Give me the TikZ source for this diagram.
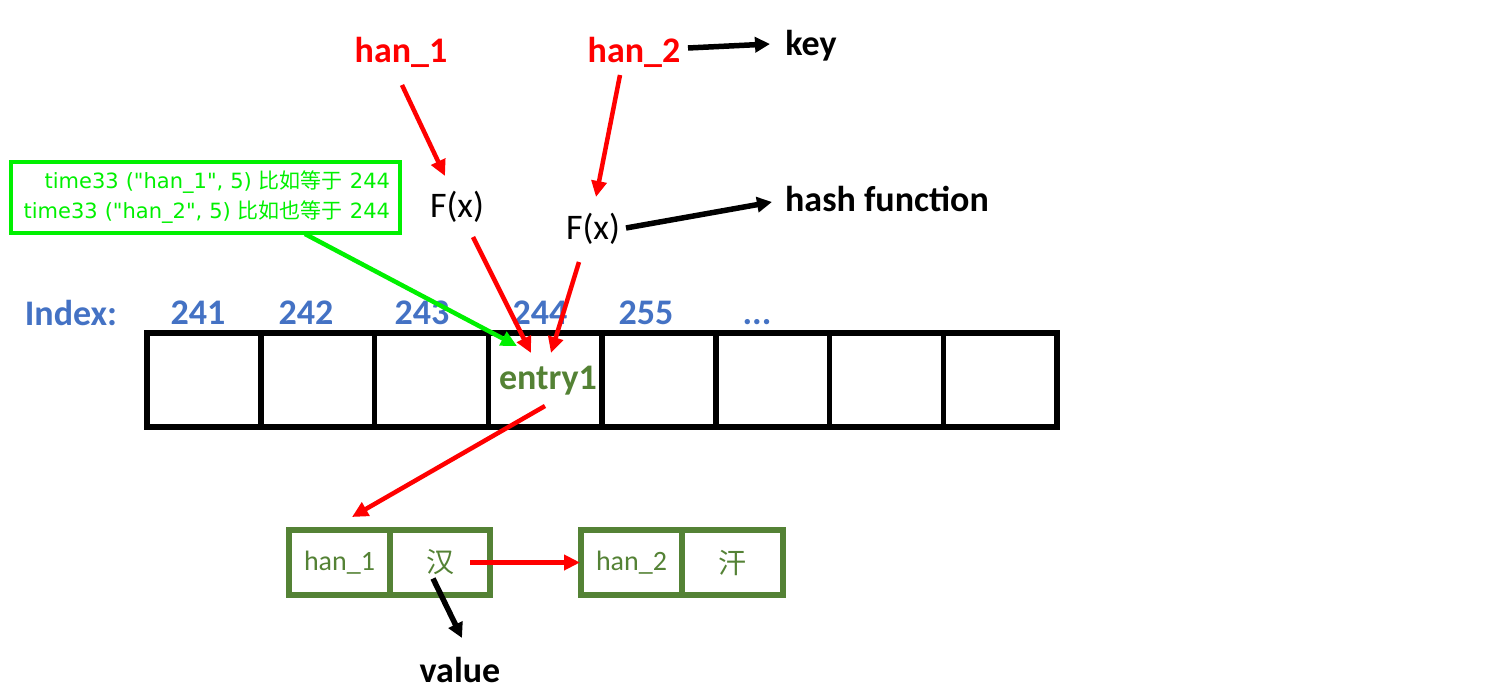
\documentclass[tikz,border=0pt]{standalone}
\usepackage{fontspec}
\setmainfont{Carlito}
\newfontfamily\cjk{Noto Sans CJK SC}
\newfontfamily\dv{DejaVu Sans}
\usetikzlibrary{arrows.meta,calc}
\definecolor{idxblue}{HTML}{4472C4}
\definecolor{dgreen}{HTML}{548235}
\definecolor{bgreen}{HTML}{00F000}
\begin{document}
\begin{tikzpicture}[x=1pt,y=-1pt,
  big/.style={font=\fontsize{36}{43}\selectfont\bfseries, inner sep=0pt},
  fxlbl/.style={font=\fontsize{36}{43}\selectfont, inner sep=0pt},
  cell/.style={draw, line width=5.5pt, minimum width=113.75pt, minimum height=94pt, inner sep=0pt, outer sep=0pt},
  kv/.style={draw=dgreen, line width=5.5pt, minimum height=65pt, inner sep=0pt, outer sep=0pt, text=dgreen, font=\fontsize{28}{34}\selectfont},
  gbox/.style={draw=bgreen, line width=4.5pt, text=bgreen, inner xsep=10pt, inner ysep=0pt, text width=369pt, minimum height=71pt, align=right, font=\dv\fontsize{21}{30}\selectfont},
  ra/.style={draw=red, line width=4.5pt, -{Triangle[length=16pt,width=15pt]}},
  ga/.style={draw=bgreen, line width=4.5pt, -{Triangle[length=16pt,width=15pt]}},
  ba/.style={draw=black, line width=5.5pt, -{Triangle[length=15pt,width=15pt]}}
]
\useasboundingbox (0,0) rectangle (1508,696);
\fill[white] (0,0) rectangle (1508,696);

% top labels
\node[big, text=red] (h1) at (401,52) {han\_1};
\node[big, text=red] (h2) at (634,52) {han\_2};
\node[big] (key) at (811,46) {key};
\node[fxlbl] (fx1) at (457,207) {F(x)};
\node[fxlbl] (fx2) at (593,229) {F(x)};
\node[big] (hash) at (887,199) {hash function};

% green note
\node[gbox] (note) at (205.5,197.5) {time33 ("han\_1", 5) {\cjk 比如等于} 244\\time33 ("han\_2", 5) {\cjk 比如也等于} 244};

% index labels
\node[big, text=idxblue] (idx) at (71,313) {Index:};
\node[big, text=idxblue] (i1) at (198,313) {241};
\node[big, text=idxblue] (i2) at (306,313) {242};
\node[big, text=idxblue] (i3) at (422,313) {243};
\node[big, text=idxblue] (i4) at (540,313) {244};
\node[big, text=idxblue] (i5) at (646,313) {255};
\node[big, text=idxblue, anchor=base] (i6) at (757,324) {...};

% array cells
\foreach \i in {1,...,8}
  \node[cell] (c\i) at ({147+113.75*(\i-0.5)},380) {};
\node[big, text=dgreen] (entry) at (548,381) {entry1};

% linked list
\node[kv, minimum width=101pt] (k1) at (339.5,562.5) {han\_1};
\node[kv, minimum width=100pt] (v1) at (440,562.5) {\cjk 汉};
\node[kv, minimum width=101pt] (k2) at (631.5,562.5) {han\_2};
\node[kv, minimum width=101pt] (v2) at (732.5,562.5) {\cjk 汗};
\node[big] (value) at (460,670) {value};

% connectors
\draw[ra] ([shift={(1,33)}]h1.center) -- ([shift={(-12,-31)}]fx1.center);
\draw[ra] ([shift={(-14,23)}]h2.center) -- ([shift={(3,-32)}]fx2.center);
\draw[ba] ([shift={(54,-4)}]h2.center) -- ([shift={(-41,-2)}]key.center);
\draw[ba] ([shift={(33,-1)}]fx2.center) -- ([shift={(-115,3)}]hash.center);
\draw[ra] ([shift={(16,30)}]fx1.center) -- ([shift={(-17,-28)}]entry.center);
\draw[ra] ([shift={(-14,33)}]fx2.center) -- ([shift={(3,-28)}]entry.center);
\draw[ga] ([shift={(99.5,36.5)}]note.center) -- ([shift={(-31,-35)}]entry.center);
\draw[ra] ([shift={(-3,25)}]entry.center) -- ([shift={(12.5,-45.5)}]k1.center);
\draw[ra] ([shift={(30,0)}]v1.center) -- ([shift={(-51.5,0)}]k2.center);
\draw[ba] ([shift={(-7,16)}]v1.center) -- ([shift={(2,-32)}]value.center);
\end{tikzpicture}
\end{document}
